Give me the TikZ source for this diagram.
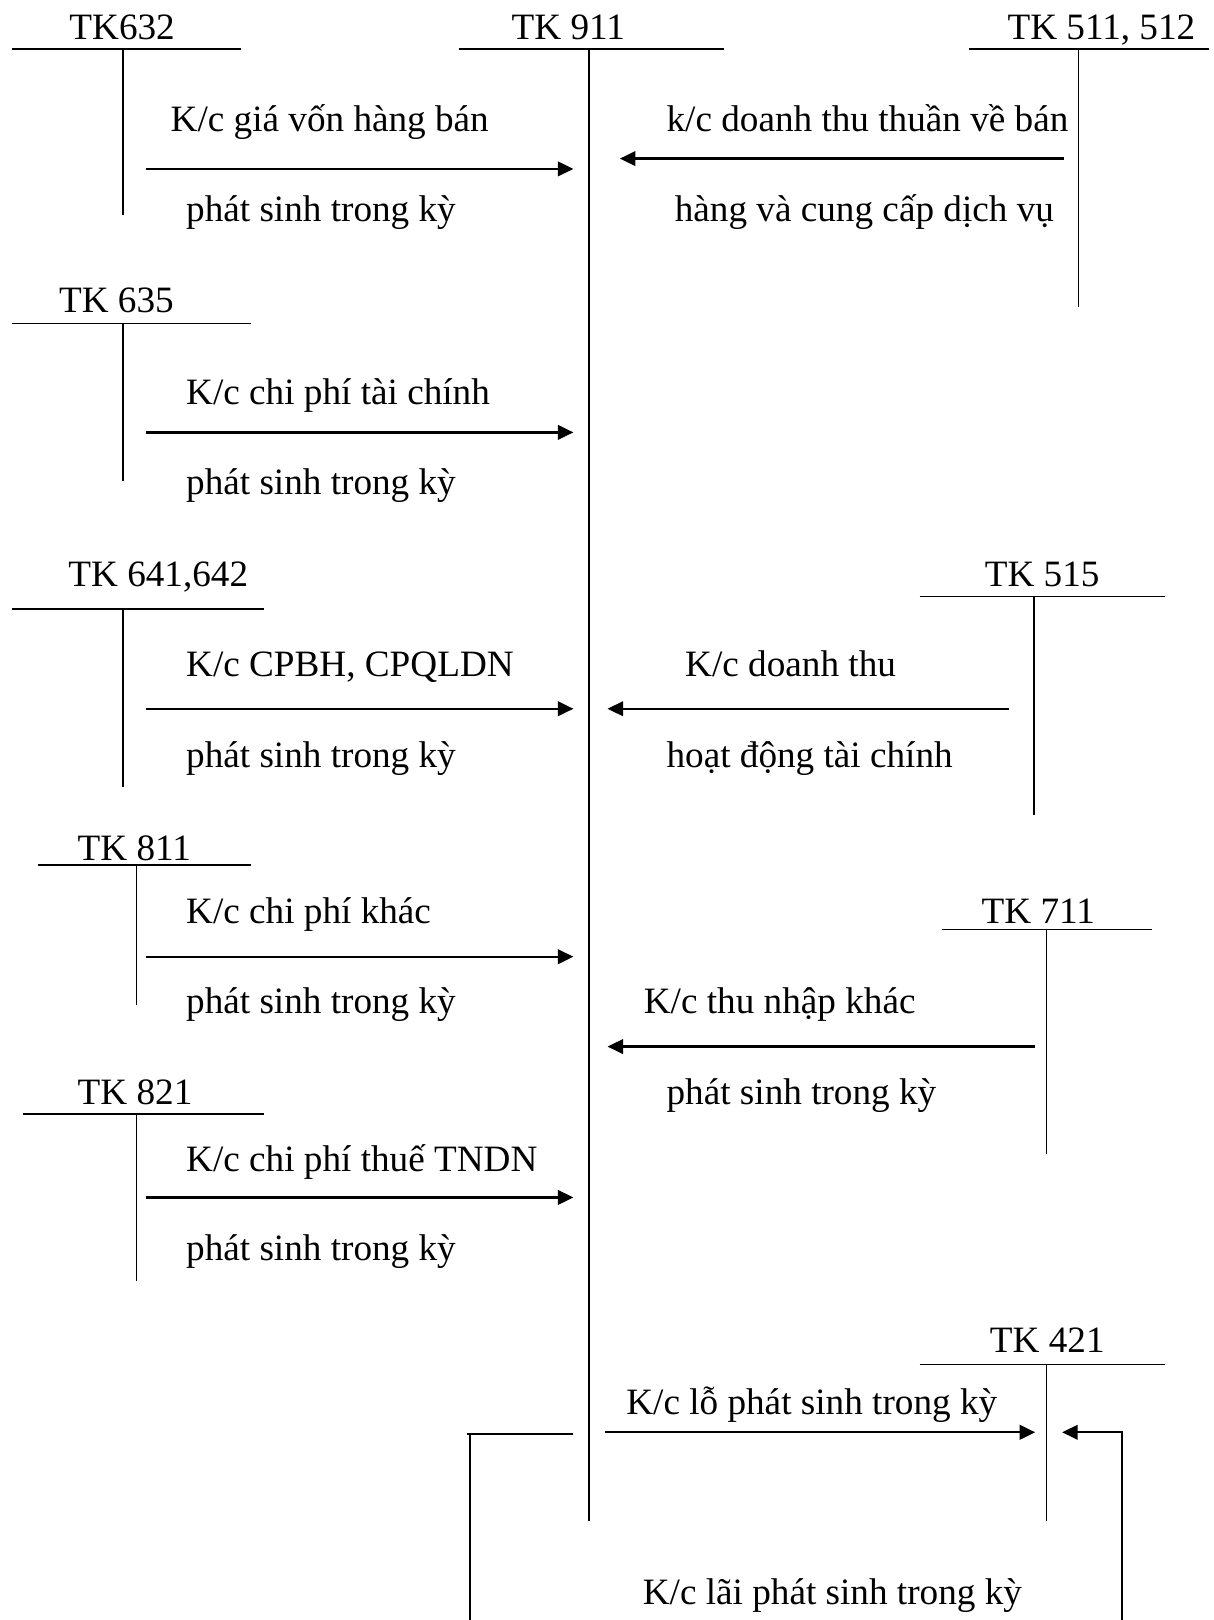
\documentclass[tikz,border=0pt]{standalone}
\usepackage{fontspec}
\setmainfont{Liberation Serif}
\usetikzlibrary{arrows.meta}
\begin{document}
\begin{tikzpicture}[x=1pt,y=-1pt,
  tline/.style={line width=1.5pt},
  flow/.style={line width=2.3pt,-{Triangle[length=15pt,width=14pt]}},
  txt/.style={anchor=base west,inner sep=0pt,font=\fontsize{36}{42}\selectfont}]
\useasboundingbox (0,0) rectangle (1175,1568);
% ---------- T accounts ----------
% TK632
\node[txt] (t632) at (67,38) {TK632};
\coordinate (a632l) at (12,47.5); \coordinate (a632r) at (233,47.5);
\coordinate (a632t) at (119,47.5); \coordinate (a632b) at (119,208);
\draw[tline] (a632l) -- (a632r); \draw[tline] (a632t) -- (a632b);
% TK 911
\node[txt] (t911) at (495,38) {TK 911};
\coordinate (a911l) at (444,47.5); \coordinate (a911r) at (701,47.5);
\coordinate (a911t) at (570,47.5); \coordinate (a911b) at (570,1472);
\draw[tline] (a911l) -- (a911r); \draw[tline,line width=2pt] (a911t) -- (a911b);
% TK 511, 512
\node[txt] (t511) at (975,38) {TK 511, 512};
\coordinate (a511l) at (938,47.5); \coordinate (a511r) at (1170,47.5);
\coordinate (a511t) at (1044,47.5); \coordinate (a511b) at (1044,297);
\draw[tline] (a511l) -- (a511r); \draw[tline] (a511t) -- (a511b);
% TK 635
\node[txt] (t635) at (57,302) {TK 635};
\coordinate (a635l) at (12,313); \coordinate (a635r) at (243,313);
\coordinate (a635t) at (119,313); \coordinate (a635b) at (119,466);
\draw[tline] (a635l) -- (a635r); \draw[tline] (a635t) -- (a635b);
% TK 641,642
\node[txt] (t641) at (66,568) {TK 641,642};
\coordinate (a641l) at (12,589.5); \coordinate (a641r) at (256,589.5);
\coordinate (a641t) at (119,589.5); \coordinate (a641b) at (119,762);
\draw[tline] (a641l) -- (a641r); \draw[tline] (a641t) -- (a641b);
% TK 515
\node[txt] (t515) at (953,568) {TK 515};
\coordinate (a515l) at (890,577.5); \coordinate (a515r) at (1128,577.5);
\coordinate (a515t) at (1001,577.5); \coordinate (a515b) at (1001,789);
\draw[tline] (a515l) -- (a515r); \draw[tline] (a515t) -- (a515b);
% TK 811
\node[txt] (t811) at (75,832.5) {TK 811};
\coordinate (a811l) at (37,837); \coordinate (a811r) at (243,837);
\coordinate (a811t) at (132,837); \coordinate (a811b) at (132,972.5);
\draw[tline] (a811l) -- (a811r); \draw[tline] (a811t) -- (a811b);
% TK 711
\node[txt] (t711) at (950,893.7) {TK 711};
\coordinate (a711l) at (912,899.5); \coordinate (a711r) at (1115,899.5);
\coordinate (a711t) at (1013,899.5); \coordinate (a711b) at (1013,1117);
\draw[tline] (a711l) -- (a711r); \draw[tline] (a711t) -- (a711b);
% TK 821
\node[txt] (t821) at (75,1069.5) {TK 821};
\coordinate (a821l) at (22,1078.2); \coordinate (a821r) at (256,1078.2);
\coordinate (a821t) at (132,1078.2); \coordinate (a821b) at (132,1239.5);
\draw[tline] (a821l) -- (a821r); \draw[tline] (a821t) -- (a821b);
% TK 421
\node[txt] (t421) at (958,1309) {TK 421};
\coordinate (a421l) at (890,1320.5); \coordinate (a421r) at (1128,1320.5);
\coordinate (a421t) at (1013,1320.5); \coordinate (a421b) at (1013,1472);
\draw[tline] (a421l) -- (a421r); \draw[tline] (a421t) -- (a421b);
% ---------- transfers ----------
% 632 -> 911
\coordinate (f1s) at (141,163.5); \coordinate (f1e) at (555,163.5);
\draw[flow] (f1s) -- (f1e);
\node[txt] (l1a) at (165,127.5) {K/c giá vốn hàng bán};
\node[txt] (l1b) at (180,214.5) {phát sinh trong kỳ};
% 511 -> 911
\coordinate (f2s) at (1030,153.5); \coordinate (f2e) at (600,153.5);
\draw[flow] (f2s) -- (f2e);
\node[txt] (l2a) at (645,127.5) {k/c doanh thu thuần về bán};
\node[txt] (l2b) at (653,214.5) {hàng và cung cấp dịch vụ};
% 635 -> 911
\coordinate (f3s) at (141,418.5); \coordinate (f3e) at (555,418.5);
\draw[flow] (f3s) -- (f3e);
\node[txt] (l3a) at (180,391.5) {K/c chi phí tài chính};
\node[txt] (l3b) at (180,478.5) {phát sinh trong kỳ};
% 641 -> 911
\coordinate (f4s) at (141,686); \coordinate (f4e) at (555,686);
\draw[flow] (f4s) -- (f4e);
\node[txt] (l4a) at (180,654.3) {K/c CPBH, CPQLDN};
\node[txt] (l4b) at (180,743) {phát sinh trong kỳ};
% 515 -> 911
\coordinate (f5s) at (977,686); \coordinate (f5e) at (588,686);
\draw[flow] (f5s) -- (f5e);
\node[txt] (l5a) at (663,654.3) {K/c doanh thu};
\node[txt] (l5b) at (645,743) {hoạt động tài chính};
% 811 -> 911
\coordinate (f6s) at (141,926); \coordinate (f6e) at (555,926);
\draw[flow] (f6s) -- (f6e);
\node[txt] (l6a) at (180,893.7) {K/c chi phí khác};
\node[txt] (l6b) at (180,981.4) {phát sinh trong kỳ};
% 711 -> 911
\coordinate (f7s) at (1002,1013); \coordinate (f7e) at (588,1013);
\draw[flow] (f7s) -- (f7e);
\node[txt] (l7a) at (623,981.4) {K/c thu nhập khác};
\node[txt] (l7b) at (645,1069.5) {phát sinh trong kỳ};
% 821 -> 911
\coordinate (f8s) at (141,1159); \coordinate (f8e) at (555,1159);
\draw[flow] (f8s) -- (f8e);
\node[txt] (l8a) at (180,1133.4) {K/c chi phí thuế TNDN};
\node[txt] (l8b) at (180,1220.2) {phát sinh trong kỳ};
% 911 -> 421 (loss)
\coordinate (f9s) at (586,1386.3); \coordinate (f9e) at (1002,1386.3);
\draw[flow] (f9s) -- (f9e);
\node[txt] (l9) at (606,1369.5) {K/c lỗ phát sinh trong kỳ};
% 421 -> 911 (profit)
\coordinate (p1) at (555,1388); \coordinate (p2) at (452,1388);
\coordinate (p3) at (455,1388); \coordinate (p4) at (455,1568);
\draw[tline,line width=2pt] (p1) -- (p2);
\draw[tline,line width=2pt] (p3) -- (p4);
\coordinate (q1) at (1086,1568); \coordinate (q2) at (1028,1386.3);
\draw[flow,line width=2pt] (q1) |- (q2);
\node[txt] (l10) at (622,1552.5) {K/c lãi phát sinh trong kỳ};
\end{tikzpicture}
\end{document}
